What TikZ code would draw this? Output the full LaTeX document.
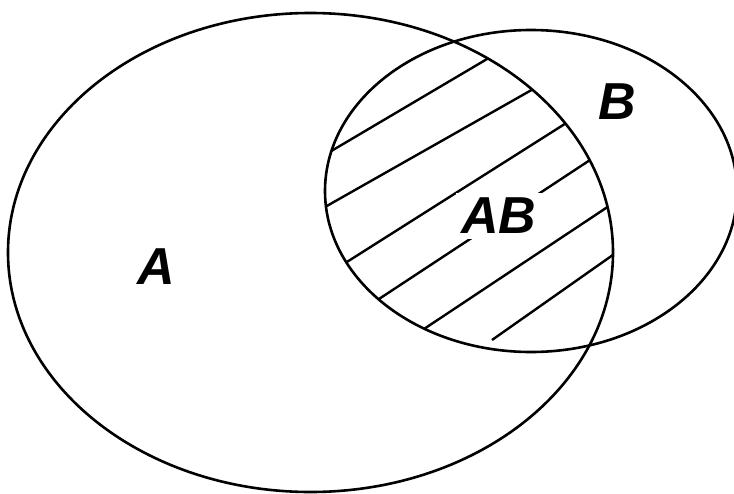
\documentclass[tikz,border=0pt]{standalone}
\usepackage{fontspec}
\setmainfont{Liberation Sans}
\begin{document}
\begin{tikzpicture}[x=1pt,y=-1pt,
  outline/.style={line width=2.6pt},
  hatch/.style={line width=2.4pt},
  setlabel/.style={font=\fontsize{52}{52}\selectfont\bfseries\itshape, inner sep=2pt}]
\useasboundingbox (0,0) rectangle (734,493);
\clip (0,0) rectangle (734,493);
% hatching of the intersection
\begin{scope}
  \clip (310.5,252.5) ellipse [x radius=302.5pt, y radius=239.5pt];
  \clip (531,191) ellipse [x radius=206pt, y radius=161pt];
  \draw[hatch, shorten <=-15pt, shorten >=-15pt] (333,150) -- (482,62);
  \draw[hatch, shorten <=-15pt, shorten >=-15pt] (325,207) -- (528,92);
  \draw[hatch, shorten <=-15pt, shorten >=-15pt] (350,260) -- (560,127);
  \draw[hatch, shorten <=-15pt, shorten >=-15pt] (382,297) -- (587,162);
  \draw[hatch, shorten <=-15pt, shorten >=-15pt] (430,325) -- (603,210);
  \draw[hatch, shorten >=-15pt] (492,340) -- (610,257);
\end{scope}
% the two sets
\draw[outline] (310.5,252.5) ellipse [x radius=302.5pt, y radius=239.5pt];
\draw[outline] (531,191) ellipse [x radius=206pt, y radius=161pt];
% labels
\node[setlabel] (la) at (156,267) {A};
\node[setlabel] (lb) at (617,102) {B};
\node[setlabel, fill=white, inner sep=5pt] (lab) at (499,216) {AB};
\end{tikzpicture}
\end{document}
